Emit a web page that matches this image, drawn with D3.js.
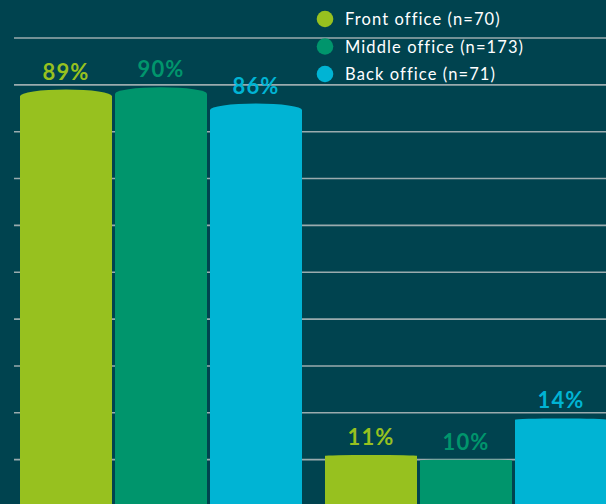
<!DOCTYPE html>
<html>
<head>
<meta charset="utf-8">
<script src="https://cdn.jsdelivr.net/npm/d3@7.9.0/dist/d3.min.js"></script>
<style>
  html, body { margin: 0; padding: 0; background: #00434f; }
  svg { display: block; }
  text { font-family: Lato, 'Open Sans', sans-serif; }
</style>
</head>
<body>
<svg id="chart" width="606" height="504"></svg>
<script>
const groups = ['Group A', 'Group B'];
const series = ['Front office (n=70)', 'Middle office (n=173)', 'Back office (n=71)'];
const colors = ['#97c11f', '#00956c', '#00b4d4'];

// value labels printed above the bars
const frontLabels = [89, 11];
const middleLabels = [90, 10];
const backLabels = [86, 14];

// bar heights as drawn in the picture (the 14% bar is drawn taller than its label)
const frontHeights = [89, 11];
const middleHeights = [89.5, 10];
const backHeights = [86, 18.8];

const gridTicks = [10, 20, 30, 40, 50, 60, 70, 80, 90, 100];

const width = 606;
const height = 504;

const svg = d3.select('#chart');

const x0 = d3.scaleBand().domain(groups).range([20, 607]).paddingInner(23 / 305).paddingOuter(0);
const x1 = d3.scaleBand().domain(series).range([0, x0.bandwidth()]).paddingInner(3 / 95).paddingOuter(0);
const y = d3.scaleLinear().domain([0, 100]).range([506.5, 38]);

// gridlines
svg.append('g')
  .selectAll('line')
  .data(gridTicks)
  .join('line')
  .attr('x1', 14)
  .attr('x2', width)
  .attr('y1', (d) => y(d))
  .attr('y2', (d) => y(d))
  .attr('stroke', '#9aabae')
  .attr('stroke-width', 1.6);

const rows = groups.flatMap((g, gi) => [
  { group: g, key: series[0], color: colors[0], label: frontLabels[gi], value: frontHeights[gi] },
  { group: g, key: series[1], color: colors[1], label: middleLabels[gi], value: middleHeights[gi] },
  { group: g, key: series[2], color: colors[2], label: backLabels[gi], value: backHeights[gi] },
]);

function barPath(d) {
  const x = x0(d.group) + x1(d.key);
  const w = x1.bandwidth();
  const top = y(d.value);
  const base = y(0);
  const dome = (base - top) * 0.016;
  return `M${x},${base}L${x},${top + dome}A${w / 2},${dome} 0 0 1 ${x + w},${top + dome}L${x + w},${base}Z`;
}

svg.append('g')
  .selectAll('path')
  .data(rows)
  .join('path')
  .attr('d', barPath)
  .attr('fill', (d) => d.color);

svg.append('g')
  .selectAll('text')
  .data(rows)
  .join('text')
  .attr('x', (d) => x0(d.group) + x1(d.key) + x1.bandwidth() / 2)
  .attr('y', (d) => y(d.value) - 10)
  .attr('text-anchor', 'middle')
  .attr('font-size', 22)
  .attr('font-weight', 700)
  .attr('letter-spacing', 1.2)
  .attr('fill', (d) => d.color)
  .text((d) => `${d.label}%`);

// legend
const legend = svg.append('g').attr('transform', 'translate(325,25)');
const items = legend.selectAll('g')
  .data(series)
  .join('g')
  .attr('transform', (d, i) => `translate(0,${i * 27.5})`);

items.append('circle')
  .attr('cx', 0)
  .attr('cy', -6)
  .attr('r', 8.3)
  .attr('fill', (d, i) => colors[i]);

items.append('text')
  .attr('x', 20)
  .attr('y', 0)
  .attr('font-size', 16.5)
  .attr('letter-spacing', 1.1)
  .attr('fill', '#ffffff')
  .text((d) => d);
</script>
</body>
</html>
